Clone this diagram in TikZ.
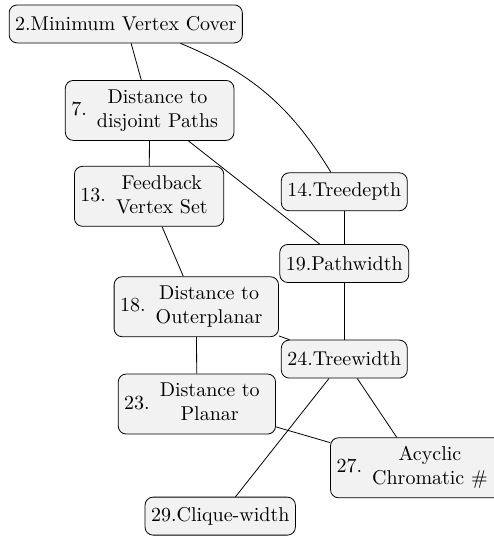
\documentclass[tikz,border=0pt]{standalone}
\usepackage{tikz}
\usetikzlibrary{positioning}
\setlength{\tabcolsep}{5pt}

\begin{document}
\begin{tikzpicture}[auto, node distance = 1 cm]
				\tikzstyle{param} = [draw=black, fill=black!5, rounded corners=4pt, inner sep=3pt, minimum height=19pt, font=\normalsize]
				
				\useasboundingbox (0, 0) rectangle (8.664, -9.419);
				
				\node[param] 	at (2.21, -0.42) 	(n2) 	{2.Minimum Vertex Cover};
				\node[param] 	at (2.63, -1.94)	(n7) 	{7.\begin{tabular}{c}Distance to\\disjoint Paths\end{tabular}};
				\node[param] 	at (2.62, -3.45)	(n13) 	{13.\begin{tabular}{c}Feedback\\Vertex Set\end{tabular}};
				\node[param] 	at (6.05, -3.37)	(n14) 	{14.Treedepth};
				\node[param] 	at (6.05, -4.63)	(n19) 	{19.Pathwidth};
				\node[param] 	at (3.45, -5.39)	(n18) 	{18.\begin{tabular}{c}Distance to\\Outerplanar\end{tabular}};
				\node[param] 	at (6.05, -6.31)	(n24) 	{24.Treewidth};
				\node[param] 	at (3.46, -7.10)	(n23) 	{23.\begin{tabular}{c}Distance to\\Planar\end{tabular}};
				\node[param] 	at (7.33, -8.22)	(n27) 	{27.\begin{tabular}{c}Acyclic\\Chromatic \#\end{tabular}};
				\node[param] 	at (3.87, -9.07)	(n29) 	{29.Clique-width};
				
				\path
				(n2)	edge			(n7)
				(n2)	edge[bend left=18]	(n14)
				(n7)	edge			(n13)
				(n7)	edge			(n19)
				(n13)	edge			(n18)
				(n14)	edge			(n19)
				(n19)	edge			(n24)
				(n18)	edge			(n24)
				(n18)	edge			(n23)
				(n24)	edge			(n27)
				(n24)	edge			(n29)
				(n23)	edge			(n27);
\end{tikzpicture}
\end{document}
